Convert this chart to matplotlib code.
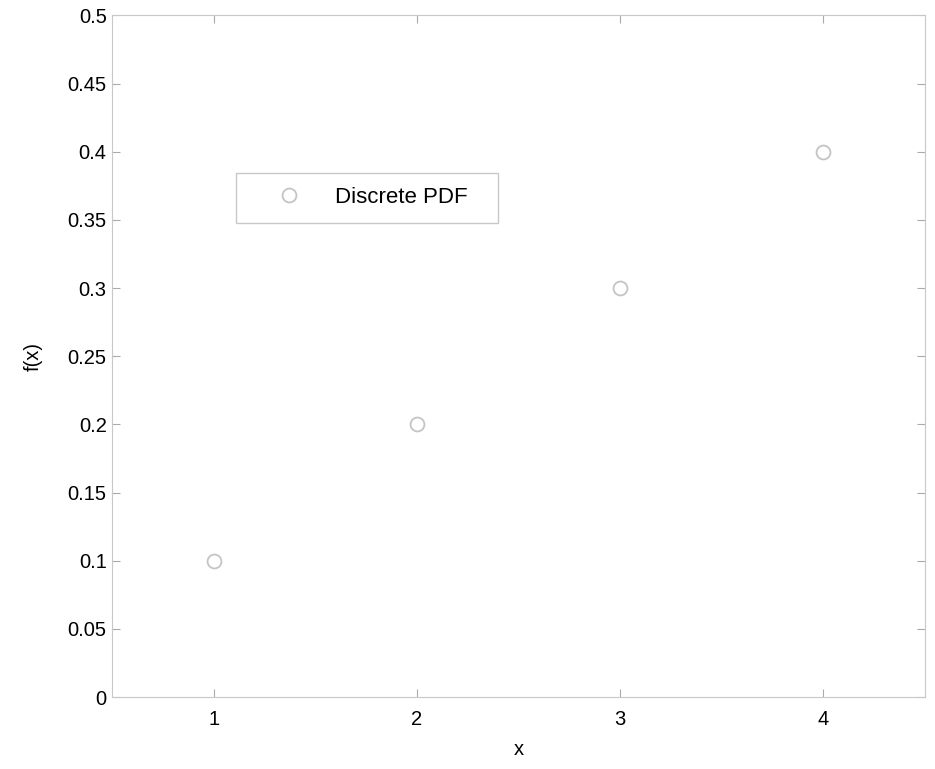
import matplotlib.pyplot as plt

x = [1, 2, 3, 4]
fx = [0.1, 0.2, 0.3, 0.4]

plt.rcParams['font.family'] = ['Liberation Sans', 'DejaVu Sans']

fig = plt.figure(figsize=(9.35, 7.69), dpi=100)
ax = fig.add_axes([0.12, 0.0936, 0.869, 0.8864])

ax.plot(x, fx, 'o', mfc='none', mec='#c4c4c4', ms=10, mew=1.3, label='Discrete PDF')

ax.set_xlim(0.5, 4.5)
ax.set_ylim(0, 0.5)
ax.set_xticks([1, 2, 3, 4])
ax.set_yticks([0, 0.05, 0.1, 0.15, 0.2, 0.25, 0.3, 0.35, 0.4, 0.45, 0.5])
ax.set_yticklabels(['0', '0.05', '0.1', '0.15', '0.2', '0.25', '0.3', '0.35', '0.4', '0.45', '0.5'])
ax.tick_params(direction='in', length=6, color='#aaaaaa', labelsize=14.5, top=True, right=True)
ax.tick_params(axis='x', pad=9)
ax.tick_params(axis='y', pad=4)
for s in ax.spines.values():
    s.set_color('#c8c8c8')

ax.set_xlabel('x', fontsize=14.5, labelpad=8)
ax.set_ylabel('f(x)', fontsize=14.5, labelpad=18)

leg = ax.legend(loc='lower left', bbox_to_anchor=(0.1525, 0.696, 0.3225, 0.069), mode='expand',
                fontsize=16, fancybox=False, edgecolor='#c8c8c8', framealpha=1,
                handletextpad=0.3, borderpad=0.65, handlelength=3.5, borderaxespad=0)
leg.get_frame().set_linewidth(1)

fig.savefig('out.png')
